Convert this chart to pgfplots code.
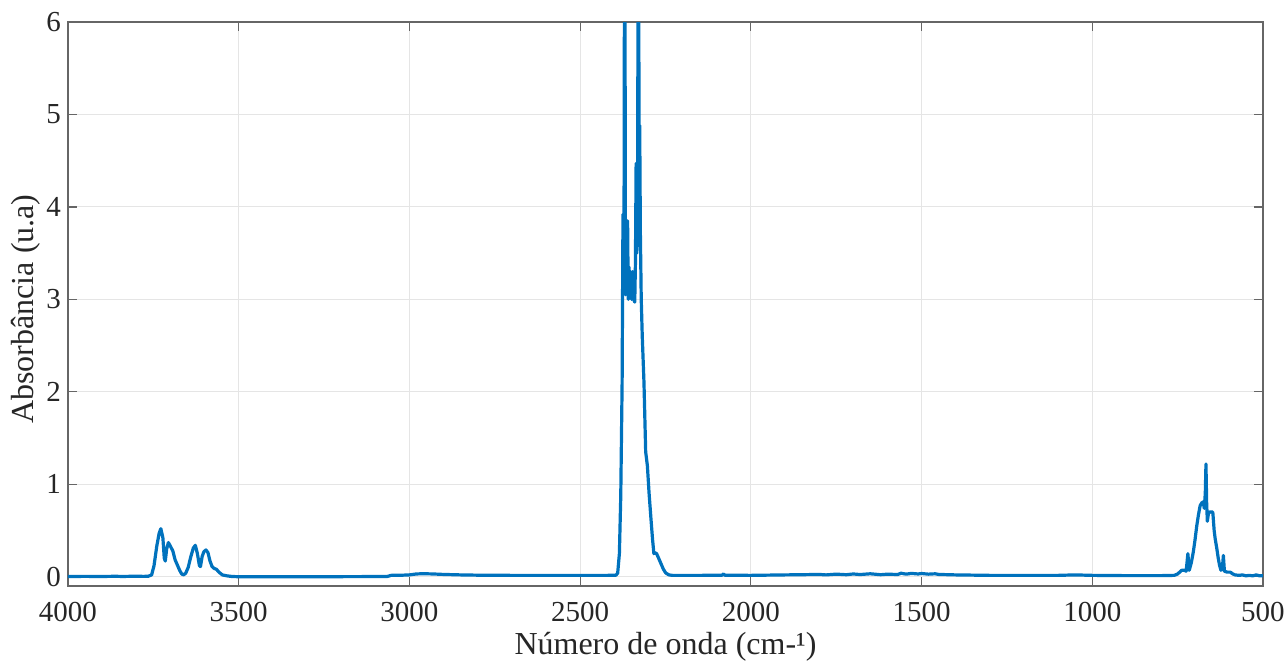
\documentclass[border=0pt]{standalone}
\usepackage{fontspec}
\setmainfont{Liberation Serif}
\usepackage{pgfplots}
\pgfplotsset{compat=1.18}
\definecolor{mblue}{RGB}{0,114,189}
\definecolor{axgray}{RGB}{38,38,38}
\begin{document}
\begin{tikzpicture}
\begin{axis}[
  at={(0,0)}, anchor=south west,
  scale only axis, width=597.5pt, height=282pt,
  xmin=500, xmax=4000, x dir=reverse, ymin=-0.1, ymax=6,
  xtick={500,1000,...,4000}, ytick={0,1,...,6},
  grid=major, major grid style={color=black!10, line width=0.5pt},
  axis line style={color=black!60, line width=0.6pt},
  tick style={color=black!60, line width=0.6pt},
  tick align=inside, major tick length=4.5pt,
  ticklabel style={font=\fontsize{14.5}{14.5}\selectfont, color=axgray},
  xticklabel style={yshift=-4.7pt},
  /pgf/number format/assume math mode=true,
  /pgf/number format/1000 sep={},
  scaled ticks=false,
  xlabel={Número de onda (cm-¹)}, ylabel={Absorbância (u.a)},
  label style={font=\fontsize{16}{16}\selectfont, color=axgray},
  xlabel style={at={(axis description cs:0.5,-0.1223)}, anchor=base},
  ylabel style={at={(axis description cs:-0.02845,0.491)}, anchor=base},
]
\addplot[color=mblue, line width=1.6pt, line join=round] coordinates {
(4000,0.003) (3950,0.004) (3900,0.003) (3860,0.005) (3840,0.003) (3800,0.006)
(3780,0.004) (3765,0.005) (3755,0.02) (3748,0.12) (3740,0.33) (3733,0.47)
(3728,0.52) (3722,0.42) (3718,0.2) (3715,0.17) (3711,0.3) (3706,0.37)
(3700,0.33) (3693,0.28) (3686,0.18) (3680,0.13) (3673,0.07) (3667,0.03)
(3661,0.02) (3655,0.04) (3648,0.1) (3640,0.22) (3633,0.31) (3627,0.34)
(3621,0.25) (3615,0.12) (3612,0.11) (3607,0.22) (3602,0.27) (3596,0.29)
(3590,0.26) (3584,0.17) (3578,0.11) (3572,0.09) (3565,0.08) (3558,0.05)
(3548,0.02) (3535,0.01) (3520,0.003) (3500,0.0) (3400,0.0) (3300,0.0)
(3200,0.001) (3100,0.002) (3065,0.003) (3058,0.01) (3055,0.015) (3020,0.017)
(3000,0.02) (2980,0.03) (2960,0.033) (2930,0.03) (2900,0.025) (2850,0.02)
(2800,0.017) (2700,0.015) (2600,0.015) (2500,0.015) (2420,0.015) (2395,0.017)
(2390,0.04) (2385,0.25) (2381,0.87) (2377,2.1) (2374.5,3.92) (2373,3.1)
(2371.5,3.6) (2369.5,8) (2367,3.05) (2365,3.6) (2363,3.1) (2361,3.85)
(2359,3.0) (2357,3.35) (2355,3.05) (2352,3.3) (2349,3.0) (2346,3.3)
(2343,3.0) (2340,2.97) (2338,3.4) (2336,4.47) (2334,3.5) (2332,4.0)
(2329,8) (2327,3.7) (2325.5,4.88) (2323.5,3.7) (2321,3.0) (2318,2.6)
(2313,2.1) (2308,1.35) (2303,1.2) (2298,0.9) (2293,0.65) (2288,0.41)
(2284,0.25) (2281,0.26) (2276,0.25) (2270,0.2) (2263,0.14) (2256,0.08)
(2249,0.04) (2240,0.02) (2230,0.015) (2150,0.015) (2085,0.016) (2080,0.03)
(2076,0.016) (2000,0.015) (1900,0.02) (1850,0.022) (1800,0.025) (1780,0.02)
(1750,0.028) (1720,0.022) (1700,0.03) (1680,0.024) (1650,0.032) (1620,0.022)
(1600,0.028) (1570,0.024) (1560,0.038) (1545,0.028) (1530,0.036) (1510,0.03)
(1500,0.035) (1480,0.028) (1460,0.032) (1450,0.025) (1400,0.02) (1300,0.015)
(1200,0.015) (1100,0.015) (1050,0.02) (1000,0.015) (900,0.012) (800,0.012)
(760,0.015) (750,0.03) (738,0.07) (730,0.07) (725,0.06) (720,0.25)
(716,0.07) (710,0.15) (704,0.27) (699,0.4) (694,0.55) (689,0.67)
(684,0.77) (679,0.8) (675,0.81) (672,0.74) (669,0.9) (667,1.22)
(665,0.8) (663,0.6) (660,0.68) (657,0.7) (652,0.7) (647,0.7)
(643,0.5) (640,0.41) (635,0.3) (631,0.2) (627,0.12) (623,0.07)
(619,0.09) (616,0.23) (613,0.06) (605,0.05) (596,0.05) (588,0.03)
(582,0.02) (570,0.015) (560,0.02) (550,0.01) (540,0.015) (530,0.01)
(520,0.02) (510,0.01) (500,0.012)
};
\end{axis}
\pgfresetboundingbox
\path (-34pt,-38.5pt) rectangle (609.5pt,293pt);
\end{tikzpicture}
\end{document}
